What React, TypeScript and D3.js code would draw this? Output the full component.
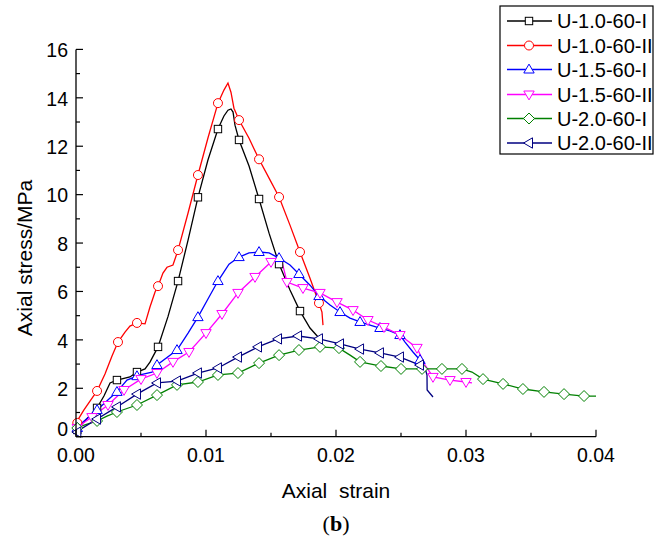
import React from "react";
import * as d3 from "d3";

const xTicks = [0, 0.01, 0.02, 0.03, 0.04];
const xTickLabels = ["0.00", "0.01", "0.02", "0.03", "0.04"];
const xMinor = [0.005, 0.015, 0.025, 0.035];
const yTicks = [0, 2, 4, 6, 8, 10, 12, 14, 16];
const yMinor = [1, 3, 5, 7, 9, 11, 13, 15];

const seriesNames = ["U-1.0-60-I", "U-1.0-60-II", "U-1.5-60-I", "U-1.5-60-II", "U-2.0-60-I", "U-2.0-60-II"];
const seriesColors = ["#000000", "#ff0000", "#0000ff", "#ff00ff", "#008000", "#000080"];
const seriesShapes = ["square", "circle", "triUp", "triDown", "diamond", "triLeft"];

type P = [number, number];

const line10I: P[] = [
  [0, 0.28], [0.0006, 0.61], [0.00162, 1.19], [0.00215, 1.68], [0.00262, 2.22], [0.00315, 2.34],
  [0.00415, 2.47], [0.00469, 2.67], [0.00531, 2.8], [0.00569, 3.08], [0.00631, 3.71], [0.00708, 4.97],
  [0.00785, 6.43], [0.00862, 8.12], [0.00938, 9.89], [0.01015, 11.43], [0.01092, 12.71], [0.01138, 13.25],
  [0.01169, 13.49], [0.01192, 13.54], [0.01208, 13.41], [0.01223, 12.87], [0.01254, 12.26], [0.01331, 11.18],
  [0.01408, 9.82], [0.01485, 8.41], [0.01562, 7.13], [0.01646, 6.06], [0.01723, 5.19], [0.018, 4.49], [0.01862, 4.12],
];
const mark10I: P[] = [
  [0.0001, 0.28], [0.00162, 1.19], [0.00315, 2.34], [0.00469, 2.67], [0.00631, 3.71], [0.00785, 6.43],
  [0.00938, 9.89], [0.01092, 12.71], [0.01254, 12.26], [0.01408, 9.82], [0.01562, 7.13], [0.01723, 5.19],
];

const line10II: P[] = [
  [0, 0.57], [0.0006, 1.1], [0.00162, 1.89], [0.00223, 2.59], [0.00277, 3.33], [0.00323, 3.91], [0.00377, 4.32],
  [0.00415, 4.57], [0.00469, 4.7], [0.00531, 4.66], [0.00569, 5.36], [0.00608, 5.98], [0.00631, 6.22], [0.00669, 6.76],
  [0.007, 7.0], [0.00746, 7.09], [0.00785, 7.71], [0.00862, 9.24], [0.00938, 10.81], [0.01015, 12.34], [0.01092, 13.78],
  [0.01138, 14.32], [0.01169, 14.61], [0.01192, 14.23], [0.01215, 13.57], [0.01254, 13.08], [0.01331, 12.33],
  [0.01408, 11.46], [0.01485, 10.68], [0.01562, 9.9], [0.01646, 8.74], [0.01723, 7.63], [0.018, 6.55], [0.01869, 5.52],
  [0.01892, 5.15], [0.019, 4.61],
];
const mark10II: P[] = [
  [0.0001, 0.57], [0.00162, 1.89], [0.00323, 3.91], [0.00469, 4.7], [0.00631, 6.22], [0.00785, 7.71], [0.00938, 10.81],
  [0.01092, 13.78], [0.01254, 13.08], [0.01408, 11.46], [0.01562, 9.9], [0.01723, 7.63], [0.01869, 5.52],
];

const line15I: P[] = [
  [0, 0.36], [0.00162, 1.1], [0.00262, 1.6], [0.00315, 1.85], [0.00392, 2.34], [0.00492, 2.55], [0.00585, 2.67],
  [0.00623, 2.96], [0.00777, 3.58], [0.00862, 4.28], [0.00938, 4.94], [0.01015, 5.69], [0.01092, 6.43], [0.01177, 7.13],
  [0.01254, 7.42], [0.01331, 7.59], [0.01408, 7.63], [0.01485, 7.59], [0.01562, 7.38], [0.01646, 7.09], [0.01715, 6.72],
  [0.018, 6.26], [0.01869, 5.81], [0.01954, 5.44], [0.02031, 5.15], [0.02108, 4.9], [0.02185, 4.74], [0.02262, 4.61],
  [0.02338, 4.49], [0.02415, 4.37], [0.02492, 4.2], [0.02531, 3.91], [0.02592, 3.5], [0.02646, 3.17], [0.02685, 2.67],
];
const mark15I: P[] = [
  [0.0001, 0.36], [0.00162, 1.1], [0.00315, 1.85], [0.00469, 2.5], [0.00623, 2.96], [0.00777, 3.58], [0.00938, 4.94],
  [0.01092, 6.43], [0.01254, 7.42], [0.01408, 7.63], [0.01562, 7.38], [0.01715, 6.72], [0.01869, 5.81], [0.02031, 5.15],
  [0.02185, 4.74], [0.02338, 4.49], [0.02492, 4.2], [0.02646, 3.17],
];

const line15II: P[] = [
  [0, 0.36], [0.00123, 0.81], [0.00246, 1.31], [0.00369, 1.93], [0.005, 2.38], [0.00623, 2.63], [0.00746, 3.09],
  [0.00869, 3.5], [0.01, 4.28], [0.01123, 5.07], [0.01246, 5.94], [0.01377, 6.6], [0.015, 7.22], [0.01554, 7.42],
  [0.01585, 7.22], [0.01623, 6.39], [0.01746, 6.14], [0.01877, 5.94], [0.02008, 5.56], [0.02131, 5.23], [0.02246, 4.82],
  [0.02369, 4.53], [0.02492, 4.2], [0.02623, 3.67], [0.02685, 2.96], [0.02746, 2.47], [0.02877, 2.34], [0.03, 2.26],
  [0.03046, 2.22],
];
const mark15II: P[] = [
  [0.0001, 0.36], [0.00123, 0.81], [0.00246, 1.31], [0.00369, 1.93], [0.005, 2.38], [0.00623, 2.63], [0.00746, 3.09],
  [0.00869, 3.5], [0.01, 4.28], [0.01123, 5.07], [0.01246, 5.94], [0.01377, 6.6], [0.015, 7.22], [0.01623, 6.39],
  [0.01746, 6.14], [0.01877, 5.94], [0.02008, 5.56], [0.02131, 5.23], [0.02246, 4.82], [0.02369, 4.53], [0.02492, 4.2],
  [0.02623, 3.67], [0.02746, 2.47], [0.02877, 2.34], [0.03, 2.26],
];

const line20I: P[] = [
  [0, 0.36], [0.00162, 0.65], [0.00238, 0.85], [0.00315, 1.02], [0.00469, 1.31], [0.00623, 1.72], [0.00777, 2.14],
  [0.00938, 2.26], [0.01092, 2.55], [0.01246, 2.63], [0.01408, 3.04], [0.01562, 3.37], [0.01715, 3.58], [0.01877, 3.71],
  [0.02023, 3.66], [0.02108, 3.37], [0.02185, 3.09], [0.02346, 2.92], [0.025, 2.8], [0.02662, 2.8], [0.02815, 2.8],
  [0.02969, 2.8], [0.03046, 2.67], [0.03131, 2.38], [0.03285, 2.18], [0.03438, 1.97], [0.036, 1.85], [0.03754, 1.76],
  [0.03908, 1.68], [0.04, 1.68],
];
const mark20I: P[] = [
  [0.0001, 0.36], [0.00162, 0.65], [0.00315, 1.02], [0.00469, 1.31], [0.00623, 1.72], [0.00777, 2.14], [0.00938, 2.26],
  [0.01092, 2.55], [0.01246, 2.63], [0.01408, 3.04], [0.01562, 3.37], [0.01715, 3.58], [0.01877, 3.71], [0.02023, 3.66],
  [0.02185, 3.09], [0.02346, 2.92], [0.025, 2.8], [0.02662, 2.8], [0.02815, 2.8], [0.02969, 2.8], [0.03131, 2.38],
  [0.03285, 2.18], [0.03438, 1.97], [0.036, 1.85], [0.03754, 1.76], [0.03908, 1.68],
];

const line20II: P[] = [
  [0, 0.19], [0.00162, 0.73], [0.00315, 1.23], [0.00469, 1.76], [0.00623, 2.22], [0.00777, 2.3], [0.00938, 2.63],
  [0.01092, 2.84], [0.01246, 3.29], [0.014, 3.71], [0.01554, 4.04], [0.01708, 4.16], [0.01869, 4.04], [0.02031, 3.83],
  [0.02185, 3.62], [0.02338, 3.46], [0.02492, 3.29], [0.02646, 2.96], [0.02685, 2.84], [0.027, 2.55], [0.02701, 1.93],
  [0.02746, 1.64],
];
const mark20II: P[] = [
  [0.0001, 0.19], [0.00162, 0.73], [0.00315, 1.23], [0.00469, 1.76], [0.00623, 2.22], [0.00777, 2.3], [0.00938, 2.63],
  [0.01092, 2.84], [0.01246, 3.29], [0.014, 3.71], [0.01554, 4.04], [0.01708, 4.16], [0.01869, 4.04], [0.02031, 3.83],
  [0.02185, 3.62], [0.02338, 3.46], [0.02492, 3.29], [0.02646, 2.96],
];

const seriesLines = [line10I, line10II, line15I, line15II, line20I, line20II];
const seriesMarks = [mark10I, mark10II, mark15I, mark15II, mark20I, mark20II];

const FONT = "'Liberation Sans', Arial, sans-serif";

function Marker({ shape, x, y, color }: { shape: string; x: number; y: number; color: string }) {
  const common = { fill: "white", stroke: color, strokeWidth: 1 };
  if (shape === "square") return <rect x={x - 3.7} y={y - 3.7} width={7.4} height={7.4} {...common} />;
  if (shape === "circle") return <circle cx={x} cy={y} r={4.5} {...common} />;
  let d = "";
  if (shape === "triUp") d = "M0,-5.4L5.2,3.5L-5.2,3.5Z";
  if (shape === "triDown") d = "M0,5.4L5.2,-3.5L-5.2,-3.5Z";
  if (shape === "triLeft") d = "M-5.4,0L3.5,-5.2L3.5,5.2Z";
  if (shape === "diamond") d = "M0,-5.5L5.5,0L0,5.5L-5.5,0Z";
  return <path d={d} transform={`translate(${x},${y})`} {...common} />;
}

export default function App() {
  const x = d3.scaleLinear().domain([0, 0.04]).range([76, 596]);
  const y = d3.scaleLinear().domain([0, 16]).range([436.7, 49.4]);
  const line = d3.line<P>().x((d) => x(d[0])).y((d) => y(d[1]));
  const x0 = x(0);
  const y0 = y(0);

  const legendX = 500;
  const legendY = 6;
  const rowY = [21, 45.5, 69.5, 94.5, 118.5, 143];

  return (
    <svg width={657} height={542} style={{ position: "absolute", left: 0, top: 0, background: "white" }}>
      <rect x={0} y={0} width={657} height={542} fill="white" />
      {seriesLines.map((pts, i) => (
        <path key={"l" + i} d={line(pts) || ""} fill="none" stroke={seriesColors[i]} strokeWidth={1.3} />
      ))}
      {seriesMarks.map((pts, i) =>
        pts.map((p, j) => (
          <Marker key={"m" + i + "-" + j} shape={seriesShapes[i]} x={x(p[0])} y={y(p[1])} color={seriesColors[i]} />
        ))
      )}
      <line x1={x0} x2={x0} y1={y(16)} y2={y0} stroke="black" strokeWidth={1.3} />
      <line x1={x0} x2={x(0.04)} y1={y0} y2={y0} stroke="black" strokeWidth={1.3} />
      {yTicks.map((t) => (
        <line key={"yt" + t} x1={x0} x2={x0 + 7} y1={y(t)} y2={y(t)} stroke="black" strokeWidth={1.2} />
      ))}
      {yMinor.map((t) => (
        <line key={"ym" + t} x1={x0} x2={x0 + 4} y1={y(t)} y2={y(t)} stroke="black" strokeWidth={1.2} />
      ))}
      {xTicks.map((t) => (
        <line key={"xt" + t} x1={x(t)} x2={x(t)} y1={y0} y2={y0 - 7} stroke="black" strokeWidth={1.2} />
      ))}
      {xMinor.map((t) => (
        <line key={"xm" + t} x1={x(t)} x2={x(t)} y1={y0} y2={y0 - 4} stroke="black" strokeWidth={1.2} />
      ))}
      {yTicks.map((t) => (
        <text key={"yl" + t} x={68} y={t === 0 ? y(t) - 8 : y(t) + 1} dy="0.35em" textAnchor="end"
          fontFamily={FONT} fontSize={19.5} fill="black">{String(t)}</text>
      ))}
      {xTicks.map((t, i) => (
        <text key={"xl" + t} x={x(t)} y={462} textAnchor="middle" fontFamily={FONT} fontSize={19.5} fill="black">
          {xTickLabels[i]}
        </text>
      ))}
      <text x={(x0 + x(0.04)) / 2} y={498} textAnchor="middle" fontFamily={FONT} fontSize={21} fill="black"
        style={{ whiteSpace: "pre" }}>{"Axial  strain"}</text>
      <text transform={`translate(32,258) rotate(-90)`} textAnchor="middle" fontFamily={FONT} fontSize={21} fill="black">
        Axial stress/MPa
      </text>
      <text x={336} y={531} textAnchor="middle" fontFamily="'Liberation Serif', 'Times New Roman', serif" fontSize={22} fill="black">
        (<tspan fontWeight="bold">b</tspan>)
      </text>
      <rect x={legendX} y={legendY} width={153} height={148} fill="white" stroke="black" strokeWidth={1.2} />
      {seriesNames.map((name, i) => (
        <g key={"lg" + i}>
          <line x1={507} x2={552} y1={rowY[i]} y2={rowY[i]} stroke={seriesColors[i]} strokeWidth={1.3} />
          <Marker shape={seriesShapes[i]} x={529} y={rowY[i]} color={seriesColors[i]} />
          <text x={557} y={rowY[i]} dy="0.35em" fontFamily={FONT} fontSize={20} fill="black">{name}</text>
        </g>
      ))}
    </svg>
  );
}
